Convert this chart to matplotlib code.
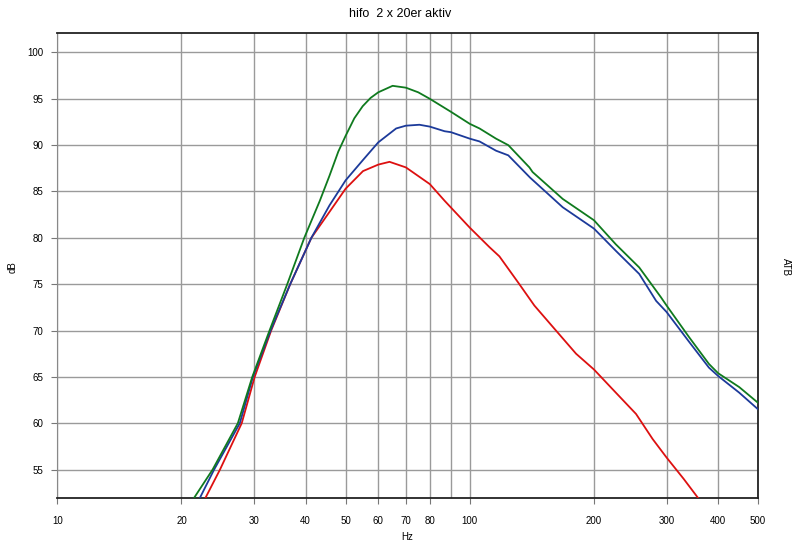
import matplotlib.pyplot as plt
from matplotlib.ticker import FixedLocator, NullLocator, NullFormatter

# frequency response readings (Hz, dB)
green_f = [21.5, 23.8, 27.4, 29.7, 32.7, 36.1, 39.7, 43.3, 45.7, 48, 50, 52.5, 55, 57.5, 60, 65, 70, 75, 80, 90, 100,
           105.6, 115.8, 124, 139.5, 142, 168, 200, 226, 257.6, 290.6, 300, 340, 380, 400, 450, 500]
green_db = [52.0, 55.0, 60.0, 65.0, 70.0, 75.0, 80.0, 84.0, 86.7, 89.3, 91.0, 92.9, 94.2, 95.1, 95.7, 96.4, 96.2, 95.7, 95.0, 93.6, 92.3,
            91.8, 90.7, 90.0, 87.6, 87.1, 84.2, 81.9, 79.3, 76.8, 73.6, 72.7, 69.3, 66.4, 65.4, 63.9, 62.2]

blue_f = [22.2, 24.0, 27.7, 29.8, 32.9, 36.7, 41.3, 45.7, 50, 55.1, 60, 66.3, 70, 75.5, 80, 86.9, 90, 100,
          105.6, 115.8, 124, 140, 168, 200, 226, 257.6, 283, 300, 340, 380, 400, 450, 500]
blue_db = [52.0, 55.0, 60.0, 65.0, 70.0, 75.0, 80.0, 83.5, 86.2, 88.4, 90.3, 91.8, 92.1, 92.2, 92.0, 91.5, 91.4, 90.7,
           90.4, 89.4, 88.9, 86.5, 83.3, 81.0, 78.6, 76.1, 73.2, 72.0, 68.8, 66.0, 65.1, 63.3, 61.5]

red_f = [22.9, 24.8, 28.0, 30.1, 33.0, 36.7, 41.3, 45.7, 50, 55.1, 60, 63.9, 70, 80, 86.9, 100,
         111.6, 118, 131.9, 143.4, 161.8, 181, 200, 226, 253, 277.5, 300, 330, 359.6]
red_db = [52.0, 55.0, 60.0, 65.0, 70.0, 75.0, 80.0, 82.8, 85.3, 87.2, 87.9, 88.2, 87.6, 85.8, 84.0, 81.1,
          79.0, 78.0, 75.0, 72.7, 70.0, 67.5, 65.8, 63.3, 61.0, 58.3, 56.3, 54.0, 51.8]

grid_f = [10, 20, 30, 40, 50, 60, 70, 80, 90, 100, 200, 300, 400, 500]
label_f = [10, 20, 30, 40, 50, 60, 70, 80, 100, 200, 300, 400, 500]
y_ticks = [55, 60, 65, 70, 75, 80, 85, 90, 95, 100]

plt.rcParams['font.family'] = ['Liberation Sans', 'DejaVu Sans']

fig = plt.figure(figsize=(8, 5.47), dpi=100)
ax = fig.add_axes([0.0716, 0.089, 0.876, 0.8507])

ax.set_xscale('log')
ax.set_xlim(10, 500)
ax.set_ylim(51.9, 102.1)

# grid drawn by hand so 90 Hz gets a line but no label
for f in grid_f:
    ax.axvline(f, color='#9a9a9a', lw=1.0, zorder=1)
for y in y_ticks:
    ax.axhline(y, color='#9a9a9a', lw=1.0, zorder=1)

ax.plot(red_f, red_db, color='#dd1010', lw=1.3, zorder=3)
ax.plot(blue_f, blue_db, color='#1c3a9a', lw=1.3, zorder=4)
ax.plot(green_f, green_db, color='#0f7a1e', lw=1.3, zorder=5)

ax.xaxis.set_major_locator(FixedLocator(label_f))
ax.xaxis.set_minor_locator(NullLocator())
ax.xaxis.set_minor_formatter(NullFormatter())
ax.set_xticklabels([str(f) for f in label_f])
ax.set_yticks(y_ticks)
ax.set_yticklabels([str(y) for y in y_ticks])
ax.tick_params(axis='both', labelsize=7, length=4, color='#777777', direction='out', pad=6)
ax.tick_params(axis='x', pad=9)

for side in ['top', 'right', 'bottom']:
    ax.spines[side].set_color('#222222')
    ax.spines[side].set_linewidth(1.3)
ax.spines['left'].set_color('#888888')

ax.set_xlabel('Hz', fontsize=7, labelpad=4)
fig.text(0.016, 0.512, 'dB', fontsize=7, rotation=90, ha='center', va='center')
fig.text(0.983, 0.512, 'ATB', fontsize=7, rotation=-90, ha='center', va='center')
fig.suptitle('hifo  2 x 20er aktiv', fontsize=9, y=0.985)

fig.savefig('out.png', dpi=100)
